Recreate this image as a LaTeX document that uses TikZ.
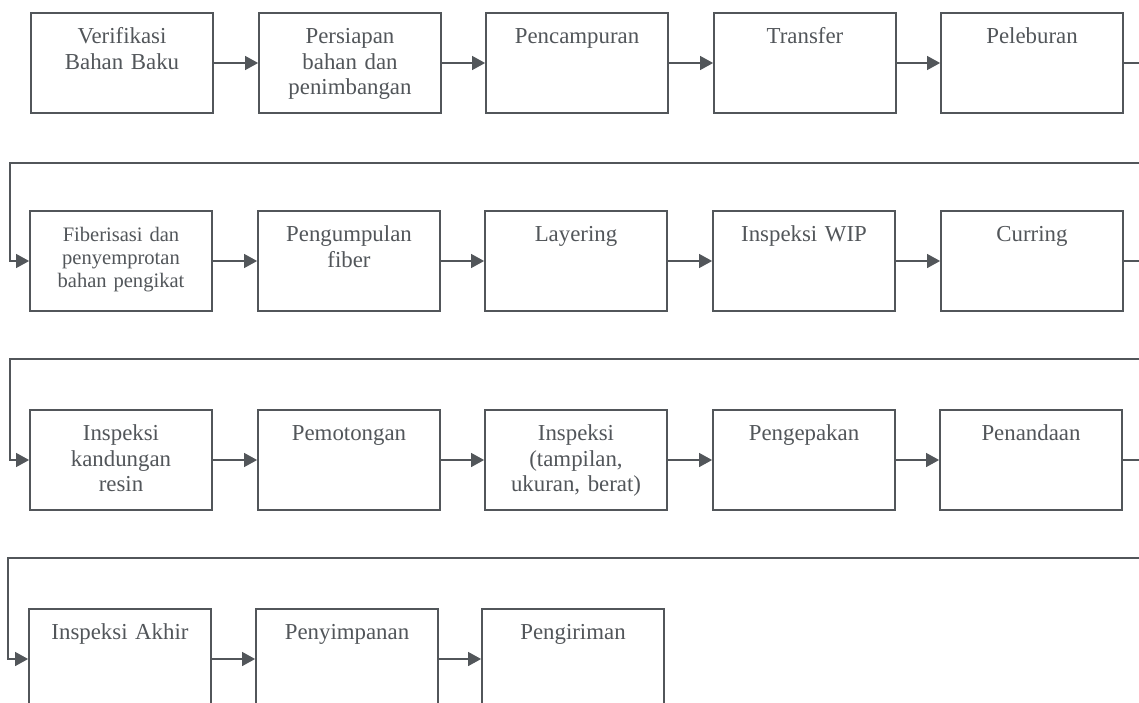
\documentclass[tikz,border=0pt]{standalone}
\usepackage{fontspec}
\setmainfont{Liberation Serif}
\usetikzlibrary{arrows.meta}
\definecolor{ink}{RGB}{82,86,90}
\tikzset{
  stepbox/.style={draw=ink, line width=1.2pt, fill=white, text=ink,
    minimum width=3.62cm, text width=3.4cm, align=center,
    inner ysep=0.12cm, text height=0.5cm, text depth=1.27cm,
    font=\fontsize{13}{14.5}\selectfont},
  smalltext/.style={font=\fontsize{11.7}{13}\selectfont},
  flow/.style={draw=ink, line width=0.65pt, -{Triangle[length=0.26cm,width=0.28cm]}}
}

\begin{document}
\begin{tikzpicture}[x=0.02cm,y=-0.02cm]
  \useasboundingbox (0,0) rectangle (1139,703);
  \node[stepbox] (verif) at (122,63) {Verifikasi\\Bahan Baku};
  \node[stepbox] (siap) at (350,63) {Persiapan\\bahan dan\\penimbangan};
  \node[stepbox] (campur) at (577,63) {Pencampuran};
  \node[stepbox] (transfer) at (805,63) {Transfer};
  \node[stepbox] (lebur) at (1032,63) {Peleburan};
  \node[stepbox, smalltext] (fiber) at (121,261) {Fiberisasi dan\\penyemprotan\\bahan pengikat};
  \node[stepbox] (kumpul) at (349,261) {Pengumpulan\\fiber};
  \node[stepbox] (layer) at (576,261) {Layering};
  \node[stepbox] (wip) at (804,261) {Inspeksi WIP};
  \node[stepbox] (curing) at (1032,261) {Curring};
  \node[stepbox] (resin) at (121,460) {Inspeksi\\kandungan\\resin};
  \node[stepbox] (potong) at (349,460) {Pemotongan};
  \node[stepbox] (tampil) at (576,460) {Inspeksi\\(tampilan,\\ukuran, berat)};
  \node[stepbox] (kepak) at (804,460) {Pengepakan};
  \node[stepbox] (tanda) at (1031,460) {Penandaan};
  \node[stepbox] (akhir) at (120,659) {Inspeksi Akhir};
  \node[stepbox] (simpan) at (347,659) {Penyimpanan};
  \node[stepbox] (kirim) at (573,659) {Pengiriman};
  % turning points of the returns
  \coordinate (ret1a) at (1160,163);
  \coordinate (ret1b) at (10,163);
  \coordinate (ret2a) at (1160,359);
  \coordinate (ret2b) at (10,359);
  \coordinate (ret3a) at (1160,558);
  \coordinate (ret3b) at (8,558);
  \draw[flow] (verif.east) -- (siap.west);
  \draw[flow] (siap.east) -- (campur.west);
  \draw[flow] (campur.east) -- (transfer.west);
  \draw[flow] (transfer.east) -- (lebur.west);
  \draw[flow] (lebur.east) -| (ret1a) -- (ret1b) |- (fiber.west);
  \draw[flow] (fiber.east) -- (kumpul.west);
  \draw[flow] (kumpul.east) -- (layer.west);
  \draw[flow] (layer.east) -- (wip.west);
  \draw[flow] (wip.east) -- (curing.west);
  \draw[flow] (curing.east) -| (ret2a) -- (ret2b) |- (resin.west);
  \draw[flow] (resin.east) -- (potong.west);
  \draw[flow] (potong.east) -- (tampil.west);
  \draw[flow] (tampil.east) -- (kepak.west);
  \draw[flow] (kepak.east) -- (tanda.west);
  \draw[flow] (tanda.east) -| (ret3a) -- (ret3b) |- (akhir.west);
  \draw[flow] (akhir.east) -- (simpan.west);
  \draw[flow] (simpan.east) -- (kirim.west);
\end{tikzpicture}
\end{document}
